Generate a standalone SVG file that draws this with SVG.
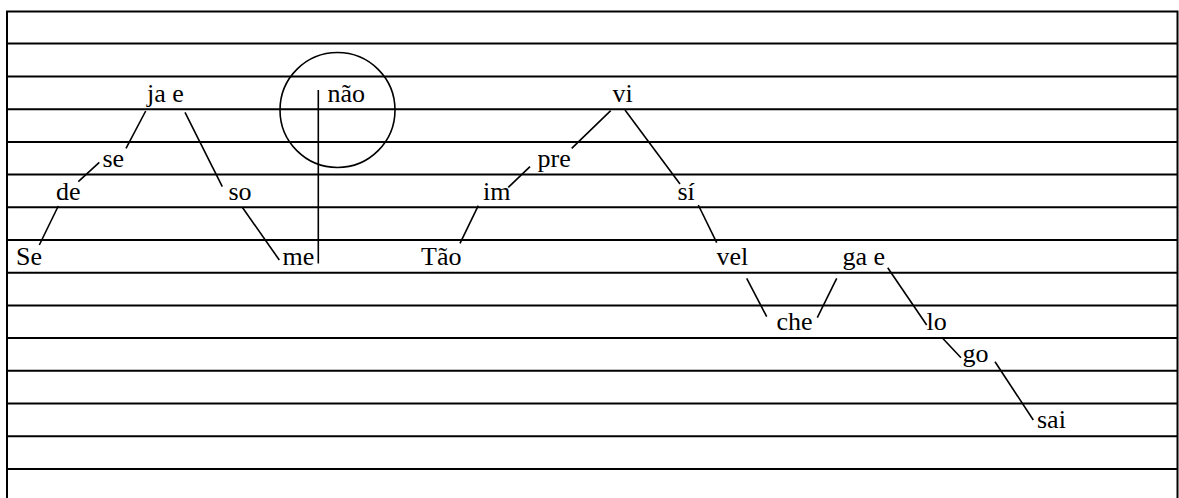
<svg xmlns="http://www.w3.org/2000/svg" width="1179" height="498" viewBox="0 0 1179 498">
  <rect width="1179" height="498" fill="#fff"/>

  <!-- staff of ruled lines -->
  <g id="staff" stroke="#000" stroke-width="2" fill="none">
    <rect x="7" y="11.5" width="1170.5" height="500"/>
    <line x1="7" y1="43.5" x2="1177.5" y2="43.5"/>
    <line x1="7" y1="76.5" x2="1177.5" y2="76.5"/>
    <line x1="7" y1="109.2" x2="1177.5" y2="109.2"/>
    <line x1="7" y1="141.9" x2="1177.5" y2="141.9"/>
    <line x1="7" y1="174.6" x2="1177.5" y2="174.6"/>
    <line x1="7" y1="207.3" x2="1177.5" y2="207.3"/>
    <line x1="7" y1="240" x2="1177.5" y2="240"/>
    <line x1="7" y1="272.7" x2="1177.5" y2="272.7"/>
    <line x1="7" y1="305.4" x2="1177.5" y2="305.4"/>
    <line x1="7" y1="338.1" x2="1177.5" y2="338.1"/>
    <line x1="7" y1="370.8" x2="1177.5" y2="370.8"/>
    <line x1="7" y1="403.5" x2="1177.5" y2="403.5"/>
    <line x1="7" y1="436.2" x2="1177.5" y2="436.2"/>
    <line x1="7" y1="468.9" x2="1177.5" y2="468.9"/>
  </g>

  <!-- connectors between syllables -->
  <g id="connectors" stroke="#000" stroke-width="1.6" fill="none">
    <line x1="39.3" y1="245" x2="58.3" y2="206"/>
    <line x1="78.3" y1="181.7" x2="99.3" y2="162.3"/>
    <line x1="126" y1="148.3" x2="145.7" y2="111"/>
    <line x1="185" y1="112.3" x2="222.3" y2="186.7"/>
    <line x1="242.3" y1="207.3" x2="279.3" y2="260"/>
    <line x1="460" y1="243.3" x2="478.3" y2="205.7"/>
    <line x1="508.3" y1="187.3" x2="530" y2="166.7"/>
    <line x1="571.7" y1="148.3" x2="610.7" y2="110.7"/>
    <line x1="625" y1="110" x2="680" y2="184"/>
    <line x1="698.3" y1="205" x2="716.7" y2="242.7"/>
    <line x1="746.7" y1="278.3" x2="766.7" y2="316.7"/>
    <line x1="817.3" y1="317.7" x2="836.7" y2="278.3"/>
    <line x1="887.7" y1="267.7" x2="926.7" y2="325"/>
    <line x1="941.7" y1="337.3" x2="961" y2="357.7"/>
    <line x1="995" y1="361.7" x2="1033.3" y2="420"/>
  </g>

  <!-- circled break marker -->
  <g id="break" stroke="#000" stroke-width="1.6" fill="none">
    <circle cx="337.5" cy="110" r="57.5"/>
    <line x1="318.3" y1="90" x2="318.3" y2="263.5"/>
  </g>

  <!-- syllables -->
  <g id="n-Se"><text x="16" y="265" font-family="Liberation Serif" font-size="26">Se</text></g>
  <g id="n-de"><text x="56" y="199.5" font-family="Liberation Serif" font-size="26">de</text></g>
  <g id="n-se"><text x="102.5" y="167" font-family="Liberation Serif" font-size="26">se</text></g>
  <g id="n-jae"><text x="147" y="101.5" font-family="Liberation Serif" font-size="26">ja e</text></g>
  <g id="n-so"><text x="228.5" y="199.5" font-family="Liberation Serif" font-size="26">so</text></g>
  <g id="n-me"><text x="282.5" y="265" font-family="Liberation Serif" font-size="26">me</text></g>
  <g id="n-nao"><text x="327.5" y="101.5" font-family="Liberation Serif" font-size="26">não</text></g>
  <g id="n-Tao"><text x="421" y="265" font-family="Liberation Serif" font-size="26">Tão</text></g>
  <g id="n-im"><text x="483" y="199.5" font-family="Liberation Serif" font-size="26">im</text></g>
  <g id="n-pre"><text x="537.5" y="167" font-family="Liberation Serif" font-size="26">pre</text></g>
  <g id="n-vi"><text x="612.5" y="101.5" font-family="Liberation Serif" font-size="26">vi</text></g>
  <g id="n-si"><text x="677.5" y="199.5" font-family="Liberation Serif" font-size="26">sí</text></g>
  <g id="n-vel"><text x="716.5" y="265" font-family="Liberation Serif" font-size="26">vel</text></g>
  <g id="n-gae"><text x="842.5" y="265" font-family="Liberation Serif" font-size="26">ga e</text></g>
  <g id="n-che"><text x="776.5" y="330" font-family="Liberation Serif" font-size="26">che</text></g>
  <g id="n-lo"><text x="926.5" y="330" font-family="Liberation Serif" font-size="26">lo</text></g>
  <g id="n-go"><text x="962.5" y="362" font-family="Liberation Serif" font-size="26">go</text></g>
  <g id="n-sai"><text x="1037" y="428" font-family="Liberation Serif" font-size="26">sai</text></g>
</svg>
